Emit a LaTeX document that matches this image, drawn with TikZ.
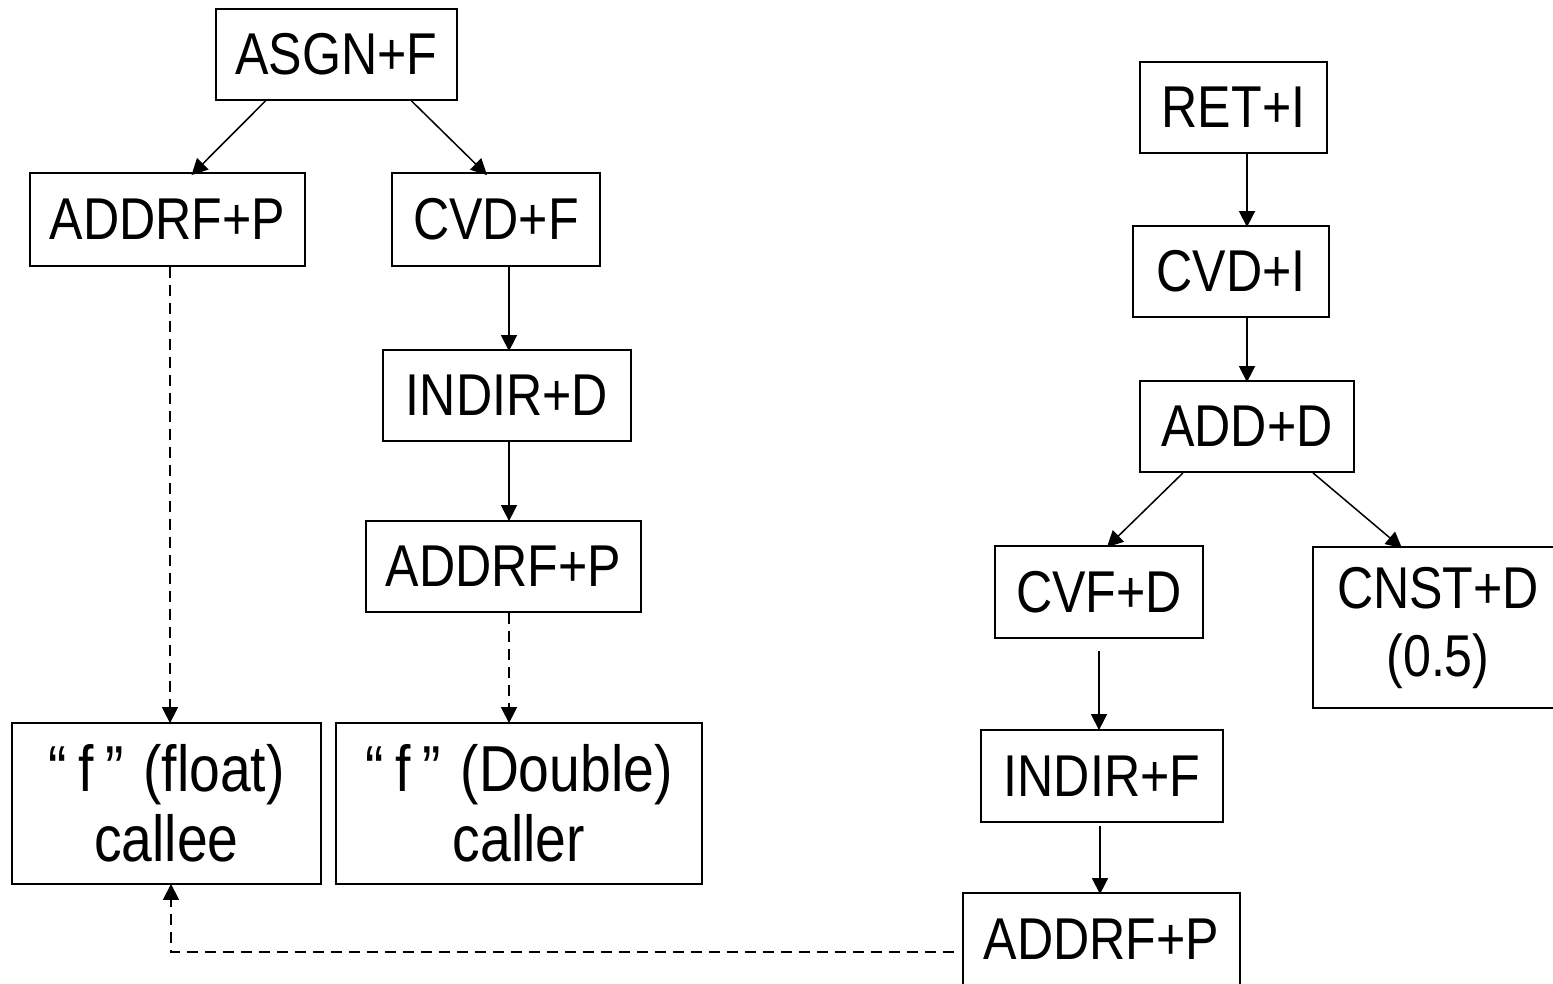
\documentclass[tikz,border=0pt]{standalone}
\usepackage{fontspec}
\newfontfamily\nf[FakeStretch=0.85]{Liberation Sans}
\usetikzlibrary{arrows.meta,calc}
\begin{document}
\begin{tikzpicture}[x=1pt,y=-1pt,
  box/.style={draw,line width=1.8pt,rectangle,inner sep=0pt,align=center,
    font=\nf\fontsize{59}{68}\selectfont},
  lbox/.style={box,font=\nf\fontsize{65}{70}\selectfont},
  arr/.style={line width=1.5pt,-{Triangle[length=16pt,width=16pt]}},
  darr/.style={arr,dash pattern=on 11pt off 7pt}]
\useasboundingbox (0,0) rectangle (1553,983);
\clip (0,0) rectangle (1553,983);
\fill[white] (0,0) rectangle (1553,983);
% left tree
\node[box,minimum width=241pt,minimum height=91pt] (asgn) at (336.5,54.5) {ASGN+F};
\node[box,minimum width=275pt,minimum height=93pt] (addrl) at (167.5,219.5) {ADDRF+P};
\node[box,minimum width=208pt,minimum height=93pt] (cvdf) at (496,219.5) {CVD+F};
\node[box,minimum width=248pt,minimum height=91pt] (indird) at (507,395.5) {INDIR+D};
\node[box,minimum width=275pt,minimum height=91pt] (addrm) at (503.5,566.5) {ADDRF+P};
\node[lbox,minimum width=309pt,minimum height=161pt] (callee) at (166.5,803.5)
  {“\hspace{12pt}f\hspace{11pt}”\hspace{20pt}(float)\\callee};
\node[lbox,minimum width=366pt,minimum height=161pt] (caller) at (519,803.5)
  {“\hspace{12pt}f\hspace{11pt}”\hspace{20pt}(Double)\\caller};
% right tree
\node[box,minimum width=187pt,minimum height=91pt] (ret) at (1233.5,107.5) {RET+I};
\node[box,minimum width=196pt,minimum height=91pt] (cvdi) at (1231,271.5) {CVD+I};
\node[box,minimum width=214pt,minimum height=91pt] (add) at (1247,426.5) {ADD+D};
\node[box,minimum width=208pt,minimum height=92pt] (cvfd) at (1099,592) {CVF+D};
\node[box,minimum width=250pt,minimum height=161pt] (cnst) at (1438,627.5) {CNST+D\\(0.5)};
\node[box,minimum width=242pt,minimum height=92pt] (indirf) at (1102,776) {INDIR+F};
\node[box,minimum width=277pt,minimum height=92pt] (addrb) at (1101.5,939) {ADDRF+P};
% connectors
\draw[arr] ([xshift=-71pt]asgn.south) -- ([xshift=24pt,yshift=-3pt]addrl.north);
\draw[arr] ([xshift=75pt]asgn.south) -- ([xshift=-9pt,yshift=-3pt]cvdf.north);
\draw[arr] ([xshift=13pt]cvdf.south) -- ([xshift=2pt,yshift=-2pt]indird.north);
\draw[arr] ([xshift=2pt]indird.south) -- ([xshift=5.5pt,yshift=-1pt]addrm.north);
\draw[darr] ([xshift=5.5pt]addrm.south) -- ([xshift=-10pt,yshift=-1pt]caller.north);
\draw[darr] ([xshift=2.5pt]addrl.south) -- ([xshift=3.5pt,yshift=-1pt]callee.north);
\draw[arr] ([xshift=13.5pt]ret.south) -- ([xshift=16pt,yshift=-2pt]cvdi.north);
\draw[arr] ([xshift=16pt]cvdi.south) -- ([yshift=-2pt]add.north);
\draw[arr] ([xshift=-64pt]add.south) -- ([xshift=8pt,yshift=-2pt]cvfd.north);
\draw[arr] ([xshift=66pt]add.south) -- ([xshift=-36pt,yshift=-2pt]cnst.north);
\draw[arr] ([yshift=-12pt]cvfd.south) -- ([xshift=-3pt,yshift=-1pt]indirf.north);
\draw[arr] ([xshift=-2pt,yshift=-3pt]indirf.south) -- ([xshift=-1.5pt,yshift=-2pt]addrb.north);
\coordinate (bend) at (171,952);
\draw[darr] ([xshift=-8pt]addrb.west |- bend) -- (bend) -- ([xshift=4.5pt,yshift=1pt]callee.south);
\end{tikzpicture}
\end{document}
